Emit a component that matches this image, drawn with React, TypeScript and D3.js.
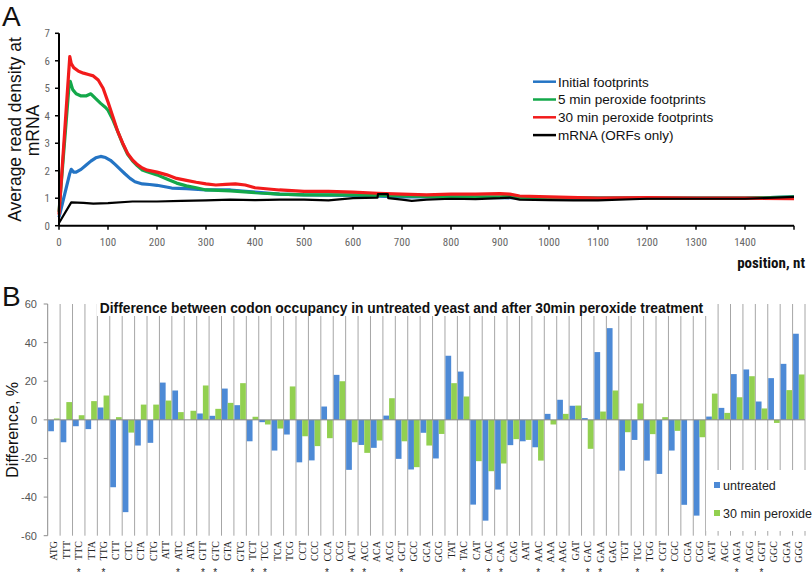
import React from 'react';
import * as d3 from 'd3';

const W = 812;
const H = 577;

// ---------- Panel A data ----------
const xTicksA = [0, 100, 200, 300, 400, 500, 600, 700, 800, 900, 1000, 1100, 1200, 1300, 1400];
const yTicksA = [0, 1, 2, 3, 4, 5, 6, 7];

const initialPos = [0, 22, 25, 30, 35, 45, 55, 65, 75, 85, 95, 105, 115, 125, 135, 145, 155, 170, 185, 200, 230, 260, 300, 350, 400, 450, 500, 600, 700, 800, 900, 1000, 1100, 1200, 1300, 1400, 1500];
const initialVal = [0.3, 1.9, 2.05, 1.95, 1.95, 2.05, 2.2, 2.35, 2.47, 2.52, 2.48, 2.38, 2.22, 2.05, 1.88, 1.72, 1.6, 1.52, 1.5, 1.47, 1.37, 1.35, 1.3, 1.3, 1.22, 1.15, 1.12, 1.1, 1.05, 1.05, 1.02, 1.0, 1.0, 1.0, 1.0, 1.0, 1.05];

const min5Pos = [0, 20, 23, 28, 35, 45, 55, 65, 75, 85, 95, 100, 110, 120, 130, 140, 150, 160, 170, 180, 200, 220, 240, 260, 280, 300, 350, 400, 450, 500, 600, 700, 800, 900, 920, 940, 1000, 1100, 1200, 1300, 1400, 1500];
const min5Val = [0.5, 5.0, 5.25, 4.95, 4.8, 4.72, 4.72, 4.8, 4.62, 4.45, 4.3, 4.2, 3.85, 3.42, 2.98, 2.6, 2.36, 2.18, 2.03, 1.96, 1.85, 1.7, 1.55, 1.45, 1.38, 1.3, 1.27, 1.2, 1.15, 1.12, 1.12, 1.08, 1.05, 1.05, 1.08, 1.02, 1.02, 1.0, 1.0, 1.0, 1.0, 1.05];

const min30Pos = [0, 22, 25, 30, 40, 50, 60, 70, 80, 90, 100, 110, 120, 130, 140, 150, 160, 170, 180, 200, 220, 240, 260, 280, 300, 320, 340, 360, 380, 400, 450, 500, 550, 600, 650, 700, 750, 800, 850, 900, 920, 940, 1000, 1100, 1200, 1300, 1400, 1500];
const min30Val = [0.4, 6.15, 5.9, 5.75, 5.62, 5.55, 5.5, 5.45, 5.3, 5.0, 4.5, 3.96, 3.42, 3.0, 2.63, 2.39, 2.22, 2.1, 2.02, 1.95, 1.85, 1.72, 1.65, 1.58, 1.52, 1.48, 1.5, 1.52, 1.48, 1.38, 1.3, 1.25, 1.25, 1.22, 1.18, 1.15, 1.12, 1.15, 1.15, 1.17, 1.15, 1.08, 1.05, 1.0, 1.02, 1.0, 1.0, 0.98];

const mrnaPos = [0, 25, 50, 70, 100, 150, 200, 250, 300, 350, 400, 450, 500, 550, 600, 650, 651, 671, 672, 700, 720, 750, 800, 850, 900, 920, 940, 1000, 1050, 1100, 1200, 1300, 1400, 1500];
const mrnaVal = [0.1, 0.85, 0.83, 0.8, 0.82, 0.88, 0.88, 0.9, 0.92, 0.95, 0.93, 0.95, 0.95, 0.92, 1.0, 1.02, 1.15, 1.15, 1.0, 0.95, 0.9, 0.95, 0.98, 0.97, 1.0, 1.02, 0.95, 0.93, 0.92, 0.92, 0.98, 0.98, 0.98, 1.05];

const seriesNamesA = ['Initial footprints', '5 min peroxide footprints', '30 min peroxide footprints', 'mRNA (ORFs only)'];

// ---------- Panel B data ----------
const codons = ['ATG', 'TTT', 'TTC', 'TTA', 'TTG', 'CTT', 'CTC', 'CTA', 'CTG', 'ATT', 'ATC', 'ATA', 'GTT', 'GTC', 'GTA', 'GTG', 'TCT', 'TCC', 'TCA', 'TCG', 'CCT', 'CCC', 'CCA', 'CCG', 'ACT', 'ACC', 'ACA', 'ACG', 'GCT', 'GCC', 'GCA', 'GCG', 'TAT', 'TAC', 'CAT', 'CAC', 'CAA', 'CAG', 'AAT', 'AAC', 'AAA', 'AAG', 'GAT', 'GAC', 'GAA', 'GAG', 'TGT', 'TGC', 'TGG', 'CGT', 'CGC', 'CGA', 'CGG', 'AGT', 'AGC', 'AGA', 'AGG', 'GGT', 'GGC', 'GGA', 'GGG'];
const untreated = [-5.9, -11.6, -3.3, -4.8, 6.4, -34.9, -47.8, -13.3, -11.9, 19.3, 15.2, 0, 3.3, 2.1, 16.2, 7.6, -11.1, -1.2, -15.9, -7.6, -22, -21, 6.9, 23.3, -25.9, -13.0, -14.5, 2.2, -20.2, -25.7, -6.7, -20.0, 33.2, 25.0, -43.9, -52.2, -36.1, -13.1, -11.1, -14.2, 3.1, 10.4, 7.3, 0.9, 35.1, 47.5, -26.3, -10.4, -21.1, -28.0, -15.9, -44.0, -49.6, 1.7, 6.2, 23.7, 26.1, 9.5, 21.6, 29.0, 44.6];
const peroxide30 = [0.7, 9.2, 2.4, 9.7, 12.6, 1.4, -6.6, 7.9, 7.9, 10.0, 4.0, 4.7, 17.8, 5.7, 8.8, 19.0, 1.6, -2.4, -4.5, 17.3, -8.5, -13.6, -9.5, 20.0, -11.6, -17.1, -10.7, 11.2, -11.1, -24.5, -13.3, -7.3, 19.0, 12.1, -21.4, -26.6, -22.6, -10.0, -10.4, -21.1, -2.4, 3.1, 7.4, -15.0, 4.3, 15.2, -6.4, 8.5, -7.4, 1.4, -5.7, 0, -9.0, 13.6, 3.6, 11.7, 22.6, 5.9, -1.6, 15.4, 23.5];
const starred = ['TTC', 'TTG', 'ATC', 'GTT', 'GTC', 'TCT', 'TCC', 'CCA', 'ACT', 'ACC', 'GCT', 'TAC', 'CAC', 'CAA', 'AAC', 'AAG', 'GAC', 'GAA', 'TGC', 'CGT', 'AGA', 'GGT'];
const yTicksB = [-60, -40, -20, 0, 20, 40, 60];

const COL_BLUE_A = '#2474c4';
const COL_GREEN_A = '#13a84a';
const COL_RED_A = '#f21b1b';
const COL_BLUE_B = '#4d8ad6';
const COL_GREEN_B = '#92d050';
const SANS = 'Arial, "Liberation Sans", sans-serif';
const NARROW = '"Liberation Sans Narrow", "Arial Narrow", "Roboto Condensed", sans-serif';

export default function App() {
  // Panel A scales
  const xA = d3.scaleLinear().domain([0, 1500]).range([59, 794]);
  const yA = d3.scaleLinear().domain([0, 7]).range([225.7, 33.3]);
  const line = d3.line<[number, number]>().x(d => xA(d[0])).y(d => yA(d[1]));
  const mk = (p: number[], v: number[]) => line(p.map((x, i) => [x, v[i]] as [number, number])) || '';
  const seriesA = [
    { name: seriesNamesA[0], d: mk(initialPos, initialVal), color: COL_BLUE_A, w: 3.2 },
    { name: seriesNamesA[1], d: mk(min5Pos, min5Val), color: COL_GREEN_A, w: 3.2 },
    { name: seriesNamesA[2], d: mk(min30Pos, min30Val), color: COL_RED_A, w: 3.2 },
    { name: seriesNamesA[3], d: mk(mrnaPos, mrnaVal), color: '#000', w: 2.2 },
  ];

  // Panel B scales
  const xB = d3.scaleBand<string>().domain(codons).range([47.7, 805]).paddingInner(0).paddingOuter(0);
  const yB = d3.scaleLinear().domain([-60, 60]).range([535.7, 304]);
  const bw = xB.bandwidth();
  const y0 = yB(0);

  return (
    <svg width={W} height={H} style={{ position: 'absolute', left: 0, top: 0, background: '#fff' }} fontFamily={SANS}>
      <rect x={0} y={0} width={W} height={H} fill="#fff" />
      {/* ---------- Panel A ---------- */}
      <text x={2} y={26} fontSize={28} fill="#111">A</text>
      <text transform={`translate(21,${(yA(0) + yA(7)) / 2}) rotate(-90)`} textAnchor="middle" fontSize={17.5} fill="#111">Average read density at</text>
      <text transform={`translate(39,${(yA(0) + yA(7)) / 2 + 1}) rotate(-90)`} textAnchor="middle" fontSize={17.5} fill="#111">mRNA</text>

      {yTicksA.map(t => (
        <g key={'ya' + t}>
          <line x1={55} x2={59} y1={yA(t)} y2={yA(t)} stroke="#000" strokeWidth={1.5} />
          <text x={50} y={yA(t) + 4} textAnchor="end" fontSize={11} fill="#666" fontFamily={NARROW}>{t}</text>
        </g>
      ))}
      {xTicksA.map(t => (
        <g key={'xa' + t}>
          <line x1={xA(t)} x2={xA(t)} y1={yA(0)} y2={yA(0) + 4} stroke="#000" strokeWidth={1.5} />
          <text x={xA(t)} y={yA(0) + 20} textAnchor="middle" fontSize={11} fill="#666" fontFamily={NARROW}>{t}</text>
        </g>
      ))}
      <line x1={xA(1500)} x2={xA(1500)} y1={yA(0)} y2={yA(0) + 4} stroke="#000" strokeWidth={1.5} />

      {seriesA.map(s => (
        <path key={s.name} d={s.d} fill="none" stroke={s.color} strokeWidth={s.w} strokeLinejoin="round" />
      ))}
      <line x1={59} x2={59} y1={yA(7)} y2={yA(0)} stroke="#000" strokeWidth={2} />
      <line x1={59} x2={794} y1={yA(0)} y2={yA(0)} stroke="#000" strokeWidth={2} />

      {seriesA.map((s, i) => (
        <g key={'lg' + i}>
          <line x1={533} x2={556} y1={81.7 + i * 17.8} y2={81.7 + i * 17.8} stroke={s.color} strokeWidth={2.5} />
          <text x={558} y={86.5 + i * 17.8} fontSize={13.5} fill="#111">{s.name}</text>
        </g>
      ))}

      <text x={805} y={268} textAnchor="end" fontSize={15} fontWeight="bold" fill="#111" fontFamily={NARROW}>position, nt</text>

      {/* ---------- Panel B ---------- */}
      <text x={2} y={306} fontSize={28} fill="#111">B</text>
      <text transform={`translate(18,${(yB(-60) + yB(60)) / 2 + 10}) rotate(-90)`} textAnchor="middle" fontSize={16} fill="#111">Difference, %</text>

      {/* vertical gridlines */}
      {codons.map(c => (
        <line key={'g' + c} x1={(xB(c) as number) + bw} x2={(xB(c) as number) + bw} y1={yB(60)} y2={yB(-60)} stroke="#a6a6a6" strokeWidth={1} />
      ))}

      {/* y axis */}
      <line x1={47.7} x2={47.7} y1={yB(60)} y2={yB(-60)} stroke="#8c8c8c" strokeWidth={1} />
      {yTicksB.map(t => (
        <g key={'yb' + t}>
          <line x1={43.7} x2={47.7} y1={yB(t)} y2={yB(t)} stroke="#8c8c8c" strokeWidth={1} />
          <text x={37} y={yB(t) + 4} textAnchor="end" fontSize={11} fill="#555">{t}</text>
        </g>
      ))}

      {/* bars */}
      {codons.map((c, i) => {
        const x0 = xB(c) as number;
        const u = untreated[i];
        const p = peroxide30[i];
        return (
          <g key={'b' + c}>
            <rect x={x0 + 0.5} width={bw / 2 - 0.5} y={Math.min(yB(u), y0)} height={Math.abs(yB(u) - y0)} fill={COL_BLUE_B} />
            <rect x={x0 + bw / 2} width={bw / 2 - 0.5} y={Math.min(yB(p), y0)} height={Math.abs(yB(p) - y0)} fill={COL_GREEN_B} />
          </g>
        );
      })}
      <line x1={47.7} x2={805} y1={y0} y2={y0} stroke="#8c8c8c" strokeWidth={1} />

      {/* title */}
      <rect x={97} y={299} width={610} height={17} fill="#fff" />
      <text x={401.5} y={313} textAnchor="middle" fontSize={13.8} fontWeight="bold" fill="#111">Difference between codon occupancy in untreated yeast and after 30min peroxide treatment</text>

      {/* codon labels */}
      {codons.map(c => {
        const cx = (xB(c) as number) + bw / 2;
        return (
          <text key={'l' + c} transform={`translate(${cx + 3.5},541) rotate(-90)`} textAnchor="end" fontSize={10} fill="#222" fontFamily='"Liberation Serif", "Times New Roman", serif'>{c}</text>
        );
      })}
      {starred.map(c => {
        const cx = (xB(c) as number) + bw / 2;
        return (
          <text key={'s' + c} x={cx} y={576} textAnchor="middle" fontSize={10} fill="#222">*</text>
        );
      })}

      {/* legend B */}
      <rect x={706} y={470} width={106} height={61} fill="#fff" />
      <rect x={714} y={482} width={6} height={6} fill={COL_BLUE_B} />
      <text x={723} y={489.5} fontSize={12.5} fill="#222">untreated</text>
      <rect x={714} y={510} width={6} height={6} fill={COL_GREEN_B} />
      <text x={723} y={517.5} fontSize={12.5} fill="#222">30 min peroxide</text>
    </svg>
  );
}
